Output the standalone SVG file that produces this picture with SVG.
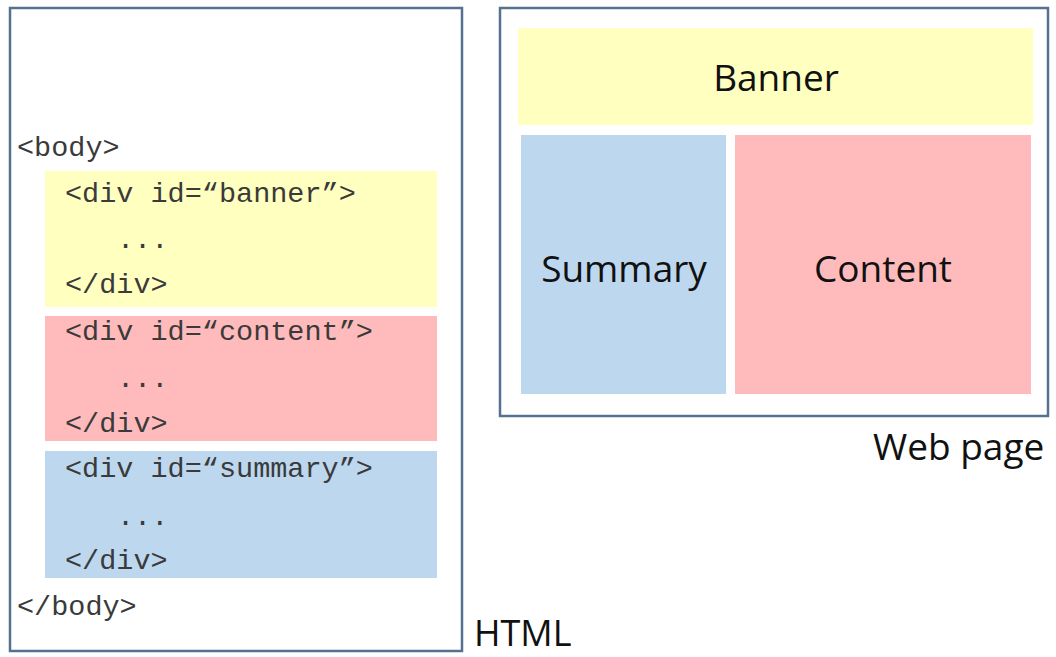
<svg xmlns="http://www.w3.org/2000/svg" width="1056" height="657" viewBox="0 0 1056 657">
<style>
.frame{fill:#fff;stroke:#56708f;stroke-width:2.5}
.y{fill:#ffffc0}
.r{fill:#ffbbbb}
.b{fill:#bdd7ee}
.code{font-family:"Liberation Mono","Courier New",monospace;font-size:28.5px;fill:#3a3a3a}
.lbl{font-family:"Open Sans","Noto Sans",sans-serif;font-size:37px;fill:#111}
.mid{text-anchor:middle}
</style>
<rect width="1056" height="657" fill="#fff"/>
<g id="html">
<rect class="frame" x="10" y="8" width="452" height="643"/>
<text class="code" x="17" y="156">&lt;body&gt;</text>
<g id="html-banner">
<rect class="y" x="45" y="171" width="392" height="136"/>
<text class="code" x="65" y="202">&lt;div id=&#8220;banner&#8221;&gt;</text>
<text class="code" x="117" y="248">...</text>
<text class="code" x="65" y="293">&lt;/div&gt;</text>
</g>
<g id="html-content">
<rect class="r" x="45" y="316" width="392" height="125"/>
<text class="code" x="65" y="340">&lt;div id=&#8220;content&#8221;&gt;</text>
<text class="code" x="117" y="387">...</text>
<text class="code" x="65" y="432">&lt;/div&gt;</text>
</g>
<g id="html-summary">
<rect class="b" x="45" y="451" width="392" height="127"/>
<text class="code" x="65" y="477">&lt;div id=&#8220;summary&#8221;&gt;</text>
<text class="code" x="117" y="525">...</text>
<text class="code" x="65" y="569">&lt;/div&gt;</text>
</g>
<text class="code" x="17" y="615">&lt;/body&gt;</text>
<text class="lbl" x="474" y="646" style="font-size:36px">HTML</text>
</g>
<g id="webpage">
<rect class="frame" x="500" y="8" width="548" height="408"/>
<g id="page-banner">
<rect class="y" x="518" y="28" width="515" height="97"/>
<text class="lbl mid" x="776" y="91">Banner</text>
</g>
<g id="page-summary">
<rect class="b" x="521" y="135" width="205" height="259"/>
<text class="lbl mid" x="624" y="282">Summary</text>
</g>
<g id="page-content">
<rect class="r" x="735" y="135" width="296" height="259"/>
<text class="lbl mid" x="883" y="282">Content</text>
</g>
<text class="lbl" x="873" y="460">Web page</text>
</g>
<g id="connectors"></g>
</svg>
